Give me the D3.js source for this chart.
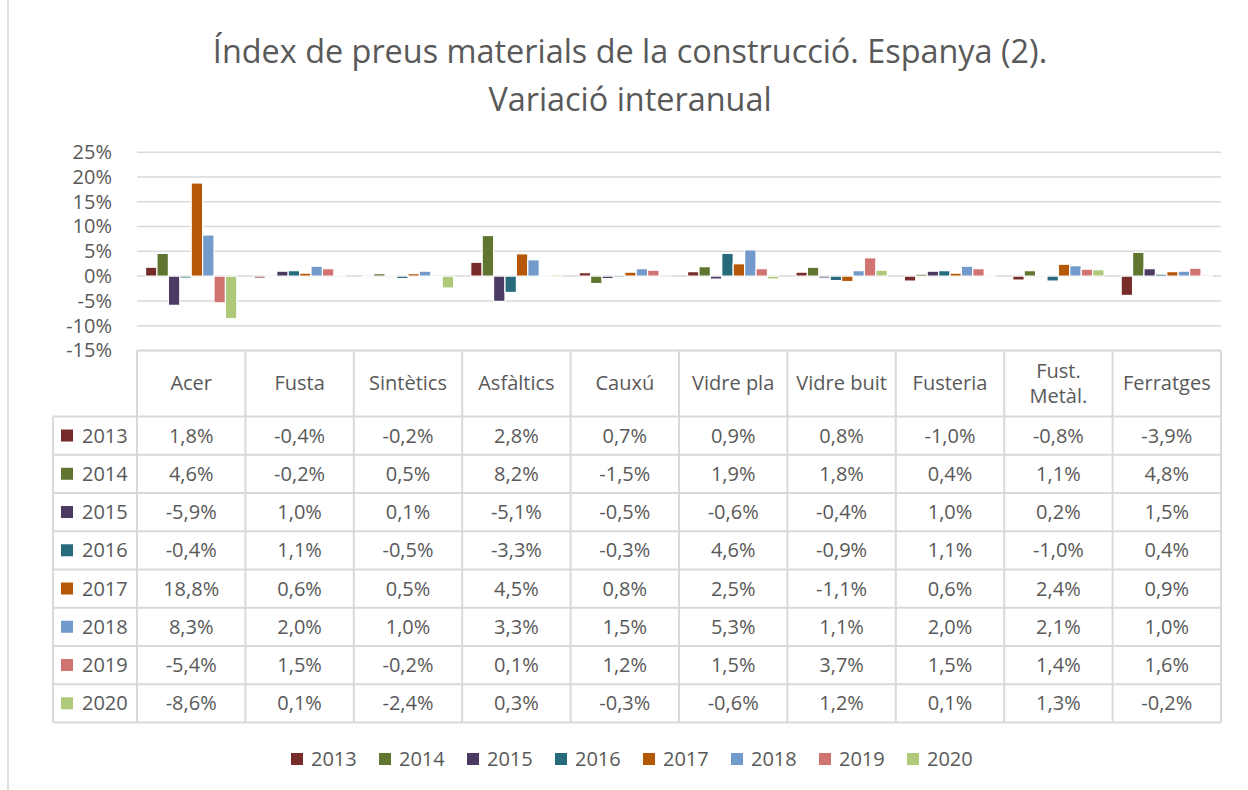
<!DOCTYPE html>
<html>
<head>
  <meta charset="utf-8">
  <title>Índex de preus materials de la construcció</title>
  <style>
    body { margin: 0; background: #fff; }
    svg { display: block; font-family: "Open Sans", sans-serif; }
    text { fill: #595959; }
  </style>
  <script src="https://cdn.jsdelivr.net/npm/d3@7"></script>
</head>
<body>
<script>
  // categories (table columns) and series (years)
  var categories = ['Acer', 'Fusta', 'Sintètics', 'Asfàltics', 'Cauxú', 'Vidre pla', 'Vidre buit', 'Fusteria', 'Fust. Metàl.', 'Ferratges'];
  var years = ['2013', '2014', '2015', '2016', '2017', '2018', '2019', '2020'];
  var colors = ['#772C2A', '#5F7530', '#4B3A62', '#276A7C', '#B65708', '#729ACA', '#D07371', '#AFC97A'];

  // % values, one array per year, same order as categories
  var v2013 = [1.8, -0.4, -0.2, 2.8, 0.7, 0.9, 0.8, -1.0, -0.8, -3.9];
  var v2014 = [4.6, -0.2, 0.5, 8.2, -1.5, 1.9, 1.8, 0.4, 1.1, 4.8];
  var v2015 = [-5.9, 1.0, 0.1, -5.1, -0.5, -0.6, -0.4, 1.0, 0.2, 1.5];
  var v2016 = [-0.4, 1.1, -0.5, -3.3, -0.3, 4.6, -0.9, 1.1, -1.0, 0.4];
  var v2017 = [18.8, 0.6, 0.5, 4.5, 0.8, 2.5, -1.1, 0.6, 2.4, 0.9];
  var v2018 = [8.3, 2.0, 1.0, 3.3, 1.5, 5.3, 1.1, 2.0, 2.1, 1.0];
  var v2019 = [-5.4, 1.5, -0.2, 0.1, 1.2, 1.5, 3.7, 1.5, 1.4, 1.6];
  var v2020 = [-8.6, 0.1, -2.4, 0.3, -0.3, -0.6, 1.2, 0.1, 1.3, -0.2];

  var yTicks = [-15, -10, -5, 0, 5, 10, 15, 20, 25];

  var values = [v2013, v2014, v2015, v2016, v2017, v2018, v2019, v2020];
  var series = years.map((y, i) => ({ year: y, color: colors[i], values: values[i] }));

  var W = 1248, H = 790;
  var left = 137, right = 1221;
  var tableTop = 350.4, headH = 66, rowH = 38.25, keyLeft = 53;

  var locale = d3.formatLocale({ decimal: ',', thousands: '.', grouping: [3], currency: ['', '€'], minus: '-' });
  var fmt1 = locale.format('.1f');
  var fmt0 = locale.format('d');

  var svg = d3.select('body').append('svg')
    .attr('width', W)
    .attr('height', H);

  // chart frame (only the left edge is inside the picture)
  svg.append('line')
    .attr('x1', 8).attr('x2', 8).attr('y1', 0).attr('y2', H)
    .attr('stroke', '#D9D9D9').attr('stroke-width', 1.5);

  // title
  var title = svg.append('text')
    .attr('text-anchor', 'middle')
    .attr('font-size', 32.4)
    .attr('x', 630);
  title.append('tspan').attr('x', 630).attr('y', 63).text('Índex de preus materials de la construcció. Espanya (2).');
  title.append('tspan').attr('x', 630).attr('y', 111).text('Variació interanual');

  // scales
  var x0 = d3.scaleBand().domain(categories).range([left, right]).paddingInner(0).paddingOuter(0);
  var x1 = d3.scaleBand().domain(years).range([0, x0.bandwidth()]).paddingInner(0).paddingOuter(0.75);
  var y = d3.scaleLinear().domain([-15, 25]).range([tableTop, 152.3]);

  // gridlines
  svg.append('g')
    .selectAll('line')
    .data(yTicks)
    .join('line')
    .attr('x1', left).attr('x2', right)
    .attr('y1', d => y(d)).attr('y2', d => y(d))
    .attr('stroke', '#D9D9D9').attr('stroke-width', 1.5);

  // y axis labels
  var yAxis = svg.append('g')
    .attr('transform', `translate(${left},0)`)
    .call(d3.axisLeft(y).tickValues(yTicks).tickSize(0).tickPadding(25).tickFormat(d => fmt0(d) + '%'));
  yAxis.select('.domain').remove();
  yAxis.selectAll('text')
    .attr('font-size', 20)
    .attr('font-family', '"Open Sans", sans-serif')
    .attr('fill', '#595959');

  // bars
  svg.append('g')
    .selectAll('g')
    .data(series)
    .join('g')
    .attr('fill', d => d.color)
    .selectAll('rect')
    .data(d => d.values.map((v, i) => ({ year: d.year, cat: categories[i], v: v })))
    .join('rect')
    .attr('x', d => x0(d.cat) + x1(d.year))
    .attr('width', x1.bandwidth())
    .attr('y', d => y(Math.max(0, d.v)))
    .attr('height', d => Math.abs(y(d.v) - y(0)))
    .attr('stroke', '#fff')
    .attr('stroke-width', 1.2);

  // data table
  var table = svg.append('g');
  var tableBottom = tableTop + headH + rowH * years.length;
  var gridColor = '#D9D9D9';

  // horizontal lines
  table.append('line')
    .attr('x1', left).attr('x2', right).attr('y1', tableTop).attr('y2', tableTop)
    .attr('stroke', gridColor).attr('stroke-width', 2);
  table.selectAll('.hline')
    .data(d3.range(years.length + 1))
    .join('line')
    .attr('class', 'hline')
    .attr('x1', keyLeft).attr('x2', right)
    .attr('y1', i => tableTop + headH + i * rowH)
    .attr('y2', i => tableTop + headH + i * rowH)
    .attr('stroke', gridColor).attr('stroke-width', 2);

  // vertical lines
  table.selectAll('.vline')
    .data(categories.map(c => x0(c)).concat([right]))
    .join('line')
    .attr('class', 'vline')
    .attr('x1', d => d).attr('x2', d => d)
    .attr('y1', tableTop).attr('y2', tableBottom)
    .attr('stroke', gridColor).attr('stroke-width', 2);
  table.append('line')
    .attr('x1', keyLeft).attr('x2', keyLeft)
    .attr('y1', tableTop + headH).attr('y2', tableBottom)
    .attr('stroke', gridColor).attr('stroke-width', 2);

  // header labels
  table.selectAll('.head')
    .data(categories)
    .join('text')
    .attr('class', 'head')
    .attr('text-anchor', 'middle')
    .attr('font-size', 20)
    .each(function (c) {
      var parts = c === 'Fust. Metàl.' ? ['Fust.', 'Metàl.'] : [c];
      var cx = x0(c) + x0.bandwidth() / 2;
      var cy = tableTop + headH / 2;
      var t = d3.select(this);
      parts.forEach((p, i) => {
        t.append('tspan')
          .attr('x', cx)
          .attr('y', cy + (i - (parts.length - 1) / 2) * 25)
          .attr('dy', '0.35em')
          .text(p);
      });
    });

  // rows
  var rows = table.selectAll('.row')
    .data(series)
    .join('g')
    .attr('class', 'row')
    .attr('transform', (d, i) => `translate(0,${tableTop + headH + i * rowH + rowH / 2})`);

  rows.append('rect')
    .attr('x', 61).attr('y', -6).attr('width', 12).attr('height', 12)
    .attr('fill', d => d.color);
  rows.append('text')
    .attr('x', 82).attr('dy', '0.35em')
    .attr('font-size', 20)
    .text(d => d.year);
  rows.selectAll('.val')
    .data(d => d.values)
    .join('text')
    .attr('class', 'val')
    .attr('x', (v, i) => x0(categories[i]) + x0.bandwidth() / 2)
    .attr('dy', '0.35em')
    .attr('text-anchor', 'middle')
    .attr('font-size', 20)
    .text(v => fmt1(v) + '%');

  // legend
  var legend = svg.append('g')
    .selectAll('g')
    .data(series)
    .join('g')
    .attr('transform', (d, i) => `translate(${291 + i * 88},759)`);
  legend.append('rect')
    .attr('x', 0).attr('y', -6).attr('width', 12).attr('height', 12)
    .attr('fill', d => d.color);
  legend.append('text')
    .attr('x', 20).attr('dy', '0.35em')
    .attr('font-size', 20)
    .text(d => d.year);
</script>
</body>
</html>
